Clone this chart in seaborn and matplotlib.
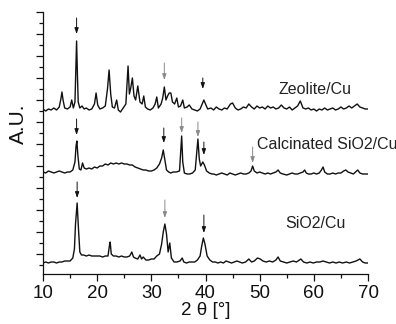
import numpy as np
import pandas as pd
import matplotlib
matplotlib.use("Agg")
import matplotlib.pyplot as plt
from matplotlib.ticker import MultipleLocator, NullFormatter
import seaborn as sns

# XRD patterns (2theta in degrees, intensity in arbitrary units)
zeo_x = [10.0, 10.5, 11.0, 11.5, 12.0, 12.5, 13.0, 13.3, 13.5, 13.7, 14.0, 14.5, 15.0, 15.3, 15.6,
         15.9, 16.1, 16.2, 16.35, 16.5, 16.8, 17.2, 17.6, 18.0, 18.5, 19.0, 19.5, 19.8, 20.1, 20.5,
         21.0, 21.5, 21.9, 22.2, 22.5, 22.8, 23.2, 23.6, 23.9, 24.3, 24.8, 25.3, 25.7, 25.95, 26.2,
         26.5, 26.8, 27.1, 27.5, 27.9, 28.3, 28.6, 28.9, 29.3, 29.8, 30.3, 30.7, 31.0, 31.3, 31.8,
         32.1, 32.4, 32.7, 33.0, 33.3, 33.6, 33.9, 34.3, 34.7, 35.0, 35.4, 35.8, 36.1, 36.6, 37.0,
         37.5, 38.0, 38.5, 39.0, 39.4, 39.7, 40.0, 40.4, 41.0, 41.5, 42.0, 42.5, 43.0, 43.5, 44.0,
         44.6, 45.0, 45.5, 46.0, 46.5, 47.0, 47.5, 48.0, 48.5, 49.0, 49.5, 50.0, 50.5, 51.0, 51.5,
         52.0, 52.5, 53.0, 53.5, 54.0, 54.5, 55.0, 55.5, 56.0, 56.5, 57.0, 57.5, 58.0, 58.5, 59.0,
         59.5, 60.0, 60.5, 61.0, 61.5, 62.0, 62.5, 63.0, 63.5, 64.0, 64.5, 65.0, 65.5, 66.0, 66.5,
         67.0, 67.5, 68.0, 68.5, 69.0, 69.5, 70.0]
zeo_y = [165, 163, 165, 164, 166, 164, 167, 175, 182, 174, 166, 165, 167, 174, 166,
         172, 215, 233, 200, 172, 166, 168, 165, 166, 164, 165, 170, 181, 169, 165,
         166, 168, 185, 204, 180, 167, 166, 174, 164, 162, 166, 170, 208, 180, 186,
         196, 178, 174, 188, 172, 170, 178, 167, 165, 164, 166, 170, 177, 166, 170,
         176, 187, 174, 178, 181, 181, 172, 170, 176, 167, 168, 174, 166, 167, 169,
         165, 164, 163, 165, 170, 174, 170, 165, 166, 164, 167, 165, 164, 166, 165,
         170, 171, 166, 164, 165, 167, 166, 170, 167, 165, 168, 166, 167, 165, 168,
         166, 167, 165, 166, 169, 166, 165, 167, 164, 166, 168, 173, 166, 165, 166,
         164, 165, 163, 165, 164, 166, 164, 165, 166, 164, 165, 167, 165, 166, 168,
         166, 168, 170, 167, 166, 165, 165]

cal_x = [10.0, 10.5, 11.0, 11.5, 12.0, 12.5, 13.0, 13.5, 14.0, 14.5, 15.0, 15.5, 15.9, 16.1, 16.25,
         16.45, 16.7, 17.0, 17.3, 17.6, 18.0, 18.5, 19.0, 19.5, 20.0, 20.5, 21.0, 21.5, 22.0, 22.5,
         23.0, 23.5, 24.0, 24.5, 25.0, 25.5, 26.0, 26.5, 27.0, 27.5, 28.0, 28.5, 29.0, 29.5, 30.0,
         30.5, 31.0, 31.5, 31.9, 32.2, 32.5, 32.8, 33.2, 33.6, 34.0, 34.6, 35.2, 35.45, 35.6, 35.8,
         36.1, 36.6, 37.1, 37.6, 38.1, 38.45, 38.6, 38.85, 39.1, 39.5, 39.8, 40.2, 40.7, 41.2, 41.5,
         42.0, 42.5, 43.0, 43.5, 44.0, 44.5, 45.0, 45.5, 46.0, 46.5, 47.0, 47.5, 48.0, 48.4, 48.7,
         49.0, 49.5, 50.0, 50.5, 51.0, 51.5, 52.0, 52.5, 53.0, 53.4, 53.8, 54.3, 55.0, 55.5, 56.0,
         56.5, 57.0, 57.5, 58.0, 58.3, 58.6, 59.0, 59.5, 60.0, 60.5, 61.0, 61.4, 61.7, 62.0, 62.5,
         63.0, 63.5, 64.0, 64.5, 65.0, 65.5, 65.9, 66.3, 66.8, 67.3, 67.7, 68.1, 68.5, 69.0, 69.5,
         70.0]
cal_y = [102, 101, 103, 102, 101, 102, 103, 102, 101, 102, 102, 104, 112, 128, 133,
         118, 105, 104, 111, 106, 105, 106, 105, 107, 106, 108, 108, 110, 109, 111,
         110, 111, 110, 111, 110, 110, 109, 109, 107, 106, 105, 104, 104, 103, 103,
         104, 106, 110, 116, 124, 114, 104, 102, 101, 102, 102, 103, 125, 138, 112,
         101, 100, 100, 101, 104, 125, 135, 115, 108, 112, 109, 103, 101, 100, 100,
         99, 100, 101, 100, 99, 101, 100, 99, 100, 101, 100, 100, 101, 103, 108,
         103, 101, 102, 101, 100, 101, 100, 101, 102, 104, 101, 100, 99, 100, 101,
         100, 100, 101, 102, 104, 101, 100, 100, 101, 100, 101, 104, 107, 102, 100,
         100, 101, 100, 101, 101, 103, 104, 102, 101, 100, 102, 104, 101, 100, 100,
         100]

sio_x = [10.0, 10.5, 11.0, 11.5, 12.0, 12.5, 13.0, 13.5, 14.0, 14.5, 15.0, 15.5, 15.8, 16.0, 16.3,
         16.55, 16.8, 17.1, 17.5, 18.0, 18.5, 19.0, 19.5, 20.0, 20.5, 21.0, 21.5, 22.0, 22.25, 22.4,
         22.6, 23.0, 23.5, 24.0, 24.5, 25.0, 25.5, 26.0, 26.4, 26.7, 27.0, 27.5, 27.9, 28.2, 28.5,
         29.0, 29.5, 30.0, 30.5, 31.0, 31.5, 31.9, 32.2, 32.5, 32.8, 33.1, 33.4, 33.7, 34.2, 34.7,
         35.3, 35.7, 36.0, 36.5, 37.0, 37.5, 38.0, 38.5, 39.0, 39.3, 39.6, 39.9, 40.3, 40.8, 41.3,
         41.8, 42.3, 42.8, 43.3, 43.8, 44.3, 44.8, 45.3, 45.8, 46.3, 46.8, 47.4, 48.0, 48.5, 49.0,
         49.6, 50.1, 50.6, 51.2, 51.8, 52.4, 53.0, 53.4, 53.8, 54.4, 55.0, 55.6, 56.2, 56.8, 57.6,
         58.1, 58.7, 59.3, 59.9, 60.5, 61.1, 61.7, 62.3, 62.9, 63.5, 64.1, 64.7, 65.3, 66.0, 66.6,
         67.2, 67.8, 68.5, 69.0, 69.5, 70.0]
sio_y = [11, 12, 11, 12, 12, 11, 12, 12, 13, 13, 13, 16, 25, 50, 71,
         45, 22, 19, 19, 18, 19, 18, 18, 18, 18, 17, 18, 18, 28, 32,
         20, 18, 18, 17, 18, 17, 17, 18, 22, 17, 16, 15, 19, 15, 17,
         14, 14, 15, 15, 18, 20, 30, 42, 50, 40, 22, 31, 16, 12, 12,
         13, 16, 12, 11, 12, 12, 12, 14, 18, 28, 36, 30, 18, 14, 12,
         12, 11, 12, 11, 13, 12, 11, 12, 13, 12, 11, 12, 15, 12, 13,
         16, 15, 13, 12, 13, 12, 14, 17, 13, 12, 11, 12, 13, 12, 15,
         12, 11, 12, 11, 12, 12, 13, 12, 11, 12, 11, 12, 11, 12, 11,
         12, 13, 15, 12, 11, 11]

# peak markers: position, arrow start, arrow tip, grey or black
arrow_x = [16.2, 32.4, 39.5, 16.2, 32.3, 35.6, 38.6, 39.7, 48.7, 16.3, 32.5, 39.7]
arrow_top = [256, 211, 196, 155, 146, 156, 152, 132, 127, 92, 74, 59]
arrow_tip = [240, 194, 185, 139, 131, 141, 137, 119, 111, 76, 56, 41]
arrow_grey = [False, True, False, False, False, True, True, False, True, False, True, False]

labels = ["Zeolite/Cu", "Calcinated SiO2/Cu", "SiO2/Cu"]
label_x = [53.4, 49.5, 54.7]
label_y = [184, 129, 51]

sns.set_style("ticks")
plt.rcParams["font.family"] = ["Liberation Sans", "DejaVu Sans"]

df = pd.concat([
    pd.DataFrame({"x": zeo_x, "y": zeo_y, "s": labels[0]}),
    pd.DataFrame({"x": cal_x, "y": cal_y, "s": labels[1]}),
    pd.DataFrame({"x": sio_x, "y": sio_y, "s": labels[2]}),
])

fig = plt.figure(figsize=(3.96, 3.24), dpi=100)
ax = fig.add_axes([0.1086, 0.1543, 0.8207, 0.8087])

sns.lineplot(data=df, x="x", y="y", hue="s", units="s", estimator=None,
             palette=["#111111"] * 3, linewidth=1.0, legend=False, ax=ax)

for x, top, tip, g in zip(arrow_x, arrow_top, arrow_tip, arrow_grey):
    c = "#8a8a8a" if g else "#111111"
    ax.annotate("", xy=(x, tip), xytext=(x, top),
                arrowprops=dict(arrowstyle="-|>,head_width=0.12,head_length=0.35",
                                color=c, lw=0.7, shrinkA=0, shrinkB=0))

for t, x, y in zip(labels, label_x, label_y):
    ax.text(x, y, t, fontsize=11.5, color="#222222", va="center", ha="left", clip_on=False)

ax.set_xlim(10, 70)
ax.set_ylim(0, 262)
ax.xaxis.set_major_locator(MultipleLocator(10))
ax.xaxis.set_minor_locator(MultipleLocator(5))
ax.yaxis.set_major_locator(MultipleLocator(22, offset=20))
ax.yaxis.set_minor_locator(MultipleLocator(11, offset=9))
ax.yaxis.set_major_formatter(NullFormatter())
ax.tick_params(axis="both", which="major", length=5, width=0.9, direction="out",
               labelsize=13.5, color="#111111", labelcolor="#111111")
ax.tick_params(axis="both", which="minor", length=3, width=0.9, direction="out", color="#111111")
ax.tick_params(axis="x", pad=3)
sns.despine(ax=ax)
for s in ["left", "bottom"]:
    ax.spines[s].set_linewidth(0.9)
    ax.spines[s].set_color("#111111")

ax.set_xlabel("2 θ [°]", fontsize=13.5, color="#111111", labelpad=0)
ax.set_ylabel("A.U.", fontsize=15, color="#111111")
ax.yaxis.set_label_coords(-0.045, 0.573)

fig.savefig("out.png", dpi=100)
